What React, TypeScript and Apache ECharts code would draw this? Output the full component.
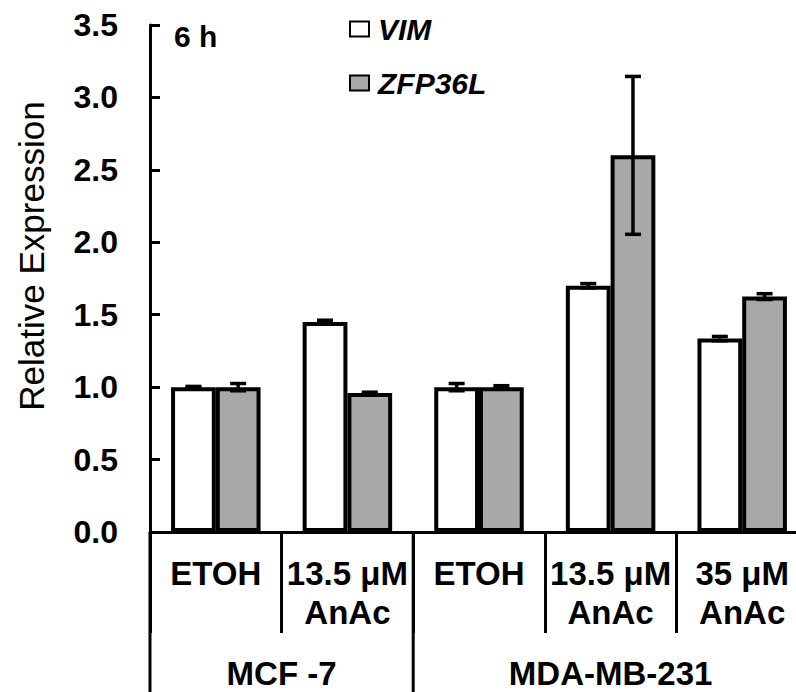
import React, { useEffect, useRef } from "react";
import * as echarts from "echarts";

const categories = ["ETOH", "13.5 μM\nAnAc", "ETOH", "13.5 μM\nAnAc", "35 μM\nAnAc"];
const seriesNames = ["VIM", "ZFP36L"];
const vimValues = [1.0, 1.45, 1.0, 1.7, 1.335];
const vimErrors = [0.005, 0.012, 0.025, 0.015, 0.015];
const zfpValues = [1.0, 0.96, 1.0, 2.6, 1.625];
const zfpErrors = [0.025, 0.005, 0.01, 0.545, 0.02];
const groupNames = ["MCF -7", "MDA-MB-231"];
const groupStarts = [0, 2];
const groupEnds = [2, 5];
const yTicks = [0, 0.5, 1.0, 1.5, 2.0, 2.5, 3.0, 3.5];
const timeLabel = "6 h";
const yTitle = "Relative Expression";

const FONT = "'Liberation Sans', Arial, Helvetica, sans-serif";
const BAR_FRAC = 0.34;

export default function App() {
  const ref = useRef<HTMLDivElement>(null);
  useEffect(() => {
    if (!ref.current) return;
    const chart = echarts.init(ref.current, undefined, { renderer: "svg" });
    const errData: number[][] = [];
    vimValues.forEach((v, i) => errData.push([i, v, vimErrors[i], -1]));
    zfpValues.forEach((v, i) => errData.push([i, v, zfpErrors[i], 1]));

    chart.setOption({
      animation: false,
      backgroundColor: "#fff",
      grid: { left: 150, top: 25, width: 658, height: 507, containLabel: false, outerBoundsMode: "none" },
      legend: {
        data: seriesNames,
        orient: "vertical",
        left: 344,
        top: 9,
        icon: "rect",
        itemWidth: 19,
        itemHeight: 15,
        itemGap: 24,
        itemStyle: { borderColor: "#000", borderWidth: 2 },
        textStyle: {
          fontFamily: FONT,
          fontSize: 30,
          fontWeight: "bold",
          fontStyle: "italic",
          color: "#000",
          lineHeight: 30,
          padding: [0, 0, 0, 4],
        },
        selectedMode: false,
      },
      xAxis: {
        type: "category",
        data: categories,
        axisLine: { lineStyle: { color: "#000", width: 3 } },
        axisTick: { show: true, interval: 0, length: 101, lineStyle: { color: "#000", width: 3 } },
        axisLabel: {
          interval: 0,
          margin: 22,
          fontFamily: FONT,
          fontSize: 33,
          fontWeight: "bold",
          color: "#000",
          lineHeight: 39,
        },
      },
      yAxis: {
        type: "value",
        min: 0,
        max: 3.5,
        interval: 0.5,
        splitLine: { show: false },
        axisLine: { show: true, lineStyle: { color: "#000", width: 3 } },
        axisTick: { show: true, inside: true, length: 10, lineStyle: { color: "#000", width: 3 } },
        axisLabel: {
          margin: 32,
          fontFamily: FONT,
          fontSize: 32,
          fontWeight: "bold",
          color: "#000",
          formatter: (v: number) => (yTicks.includes(v) ? v.toFixed(1) : ""),
        },
      },
      series: [
        {
          name: seriesNames[0],
          type: "bar",
          data: vimValues,
          barWidth: BAR_FRAC * 100 + "%",
          barGap: "0%",
          itemStyle: { color: "#ffffff", borderColor: "#000", borderWidth: 4 },
        },
        {
          name: seriesNames[1],
          type: "bar",
          data: zfpValues,
          barWidth: BAR_FRAC * 100 + "%",
          barGap: "0%",
          itemStyle: { color: "#a8a8a8", borderColor: "#000", borderWidth: 4 },
        },
        {
          type: "custom",
          z: 5,
          data: errData,
          renderItem: (params: any, api: any) => {
            const i = api.value(0);
            const v = api.value(1);
            const e = api.value(2);
            const side = api.value(3);
            const band = api.size([1, 0])[0];
            const x = api.coord([i, 0])[0] + side * band * BAR_FRAC * 0.5;
            const yT = api.coord([i, v + e])[1];
            const yB = api.coord([i, v - e])[1];
            const half = 8;
            const st = { stroke: "#000", lineWidth: 3.5 };
            return {
              type: "group",
              children: [
                { type: "line", shape: { x1: x, y1: yT, x2: x, y2: yB }, style: st },
                { type: "line", shape: { x1: x - half, y1: yT, x2: x + half, y2: yT }, style: st },
                { type: "line", shape: { x1: x - half, y1: yB, x2: x + half, y2: yB }, style: st },
              ],
            };
          },
        },
      ],
    });

    const c0 = chart.convertToPixel({ xAxisIndex: 0 }, 0) as number;
    const c1 = chart.convertToPixel({ xAxisIndex: 0 }, 1) as number;
    const band = c1 - c0;
    const b = (k: number) => c0 - band / 2 + k * band;
    const yBase = chart.convertToPixel({ yAxisIndex: 0 }, 0) as number;
    const graphics: any[] = [];
    const seps = new Set<number>();
    groupStarts.forEach((s) => seps.add(s));
    groupEnds.forEach((s) => seps.add(s));
    seps.forEach((k) => {
      graphics.push({
        type: "line",
        shape: { x1: b(k), y1: yBase, x2: b(k), y2: 700 },
        style: { stroke: "#000", lineWidth: 3 },
      });
    });
    groupNames.forEach((name, gi) => {
      graphics.push({
        type: "text",
        x: (b(groupStarts[gi]) + b(groupEnds[gi])) / 2,
        y: 673,
        style: {
          text: name,
          fontFamily: FONT,
          fontSize: 33,
          fontWeight: "bold",
          fill: "#000",
          align: "center",
          verticalAlign: "middle",
        },
      });
    });
    graphics.push({
      type: "text",
      x: 174,
      y: 36,
      style: {
        text: timeLabel,
        fontFamily: FONT,
        fontSize: 30,
        fontWeight: "bold",
        fill: "#000",
        align: "left",
        verticalAlign: "middle",
      },
    });
    graphics.push({
      type: "text",
      x: 31,
      y: 256,
      rotation: Math.PI / 2,
      style: {
        text: yTitle,
        fontFamily: FONT,
        fontSize: 35,
        fill: "#000",
        align: "center",
        verticalAlign: "middle",
      },
    });
    chart.setOption({ graphic: graphics });

    return () => chart.dispose();
  }, []);
  return (
    <div
      ref={ref}
      style={{ position: "fixed", left: 0, top: 0, width: 796, height: 692, background: "#fff" }}
    />
  );
}
